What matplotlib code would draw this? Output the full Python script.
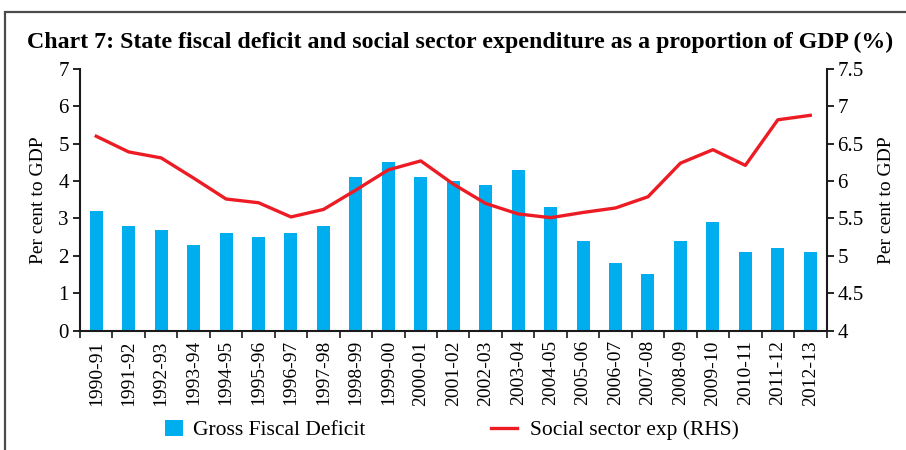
import matplotlib
matplotlib.use("Agg")
import matplotlib.pyplot as plt
from matplotlib.patches import Rectangle, Patch
from matplotlib.lines import Line2D
import numpy as np

years = ["1990-91", "1991-92", "1992-93", "1993-94", "1994-95", "1995-96", "1996-97",
         "1997-98", "1998-99", "1999-00", "2000-01", "2001-02", "2002-03", "2003-04",
         "2004-05", "2005-06", "2006-07", "2007-08", "2008-09", "2009-10", "2010-11",
         "2011-12", "2012-13"]
gross_fiscal_deficit = [3.2, 2.8, 2.7, 2.3, 2.6, 2.5, 2.6, 2.8, 4.1, 4.5, 4.1, 4.0, 3.9,
                        4.3, 3.3, 2.4, 1.8, 1.5, 2.4, 2.9, 2.1, 2.2, 2.1]
social_sector_exp = [6.60, 6.39, 6.31, 6.04, 5.76, 5.71, 5.52, 5.62, 5.88, 6.15, 6.27,
                     5.96, 5.70, 5.56, 5.51, 5.58, 5.64, 5.79, 6.24, 6.42, 6.21, 6.82, 6.88]

plt.rcParams['font.family'] = ['Liberation Serif', 'DejaVu Serif']

W, H = 906, 450
fig = plt.figure(figsize=(W / 100, H / 100), dpi=100)

# outer frame
fig.patches.append(Rectangle((5 / W, -0.1), 1.2, 1 - 12 / H + 0.1, transform=fig.transFigure,
                             fill=False, edgecolor='#4a4a4a', linewidth=1.6))

left, right, top, bottom = 80, 826.5, 69, 330.5
ax = fig.add_axes([left / W, 1 - bottom / H, (right - left) / W, (bottom - top) / H])
x = np.arange(len(years))
bar_color = '#00AEEF'
line_color = '#ED1C24'
ax.bar(x, gross_fiscal_deficit, width=0.4, color=bar_color, zorder=2)
ax.set_xlim(-0.5, len(years) - 0.5)
ax.set_ylim(0, 7)
ax.set_yticks(range(0, 8))

ax2 = ax.twinx()
ax2.plot(x, social_sector_exp, color=line_color, linewidth=2.4, zorder=3)
ax2.set_ylim(4, 7.5)
ax2.set_yticks([4, 4.5, 5, 5.5, 6, 6.5, 7, 7.5])
ax2.set_yticklabels(['4', '4.5', '5', '5.5', '6', '6.5', '7', '7.5'])

for a in (ax, ax2):
    a.spines['top'].set_visible(False)
    for s in ('left', 'right', 'bottom'):
        a.spines[s].set_linewidth(1.5)
        a.spines[s].set_color('#1a1a1a')

ax.spines['right'].set_visible(False)
ax2.spines['left'].set_visible(False)
ax2.spines['bottom'].set_visible(False)

ax.set_xticks(np.arange(-0.5, len(years), 1.0))
ax.set_xticklabels([])
ax.set_xticks(x, minor=True)
ax.set_xticklabels(years, minor=True, rotation=90, fontsize=14)
ax.tick_params(axis='x', which='major', direction='out', length=5, width=1.2, color='#1a1a1a')
ax.tick_params(axis='x', which='minor', length=0, pad=7)
ax.tick_params(axis='y', direction='out', length=5, width=1.2, labelsize=15, pad=3)
ax2.tick_params(axis='y', direction='out', length=5, width=1.2, labelsize=15, pad=3)

ax.set_ylabel('Per cent to GDP', fontsize=14, labelpad=8)
ax2.set_ylabel('Per cent to GDP', fontsize=14, labelpad=10)

fig.text(460 / W, 1 - 42 / H, 'Chart 7: State fiscal deficit and social sector expenditure as a proportion of GDP (%)',
         ha='center', va='center', fontsize=17.2, fontweight='bold')

leg1 = fig.legend(handles=[Patch(facecolor=bar_color, edgecolor='none', label='Gross Fiscal Deficit')],
                  loc='center left', bbox_to_anchor=(146 / W, 1 - 430 / H), frameon=False,
                  fontsize=15.5, handlelength=0.8, handleheight=0.8, handletextpad=0.5)
leg2 = fig.legend(handles=[Line2D([0], [0], color=line_color, linewidth=2.4, label='Social sector exp (RHS)')],
                  loc='center left', bbox_to_anchor=(472 / W, 1 - 430 / H), frameon=False,
                  fontsize=15.5, handlelength=1.2, handletextpad=0.6)

fig.savefig('out.png', dpi=100)
